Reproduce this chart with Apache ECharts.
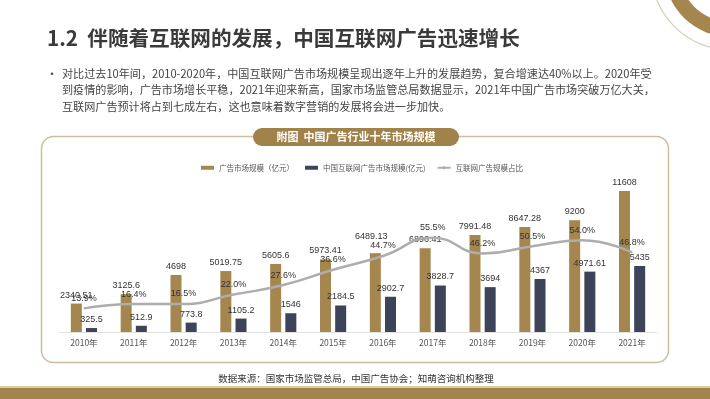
<!DOCTYPE html>
<html>
<head>
<meta charset="utf-8">
<script src="https://cdn.jsdelivr.net/npm/echarts@6/dist/echarts.min.js"></script>
<style>
  html, body { margin: 0; padding: 0; background: #fff; }
  #main { width: 710px; height: 399px; }
</style>
</head>
<body>
<div id="main"></div>
<script>
var years = ['2010年', '2011年', '2012年', '2013年', '2014年', '2015年', '2016年', '2017年', '2018年', '2019年', '2020年', '2021年'];
var adMarket = [2340.51, 3125.6, 4698, 5019.75, 5605.6, 5973.41, 6489.13, 6896.41, 7991.48, 8647.28, 9200, 11608];
var netAd = [325.5, 512.9, 773.8, 1105.2, 1546, 2184.5, 2902.7, 3828.7, 3694, 4367, 4971.61, 5435];
var netShare = [13.9, 16.4, 16.5, 22.0, 27.6, 36.6, 44.7, 55.5, 46.2, 50.5, 54.0, 46.8];

var seriesNames = ['广告市场规模（亿元）', '中国互联网广告市场规模(亿元)', '互联网广告规模占比'];
var bodyLines = [
    '对比过去10年间，2010-2020年，中国互联网广告市场规模呈现出逐年上升的发展趋势，复合增速达40%以上。2020年受',
    '到疫情的影响，广告市场增长平稳，2021年迎来新高，国家市场监管总局数据显示，2021年中国广告市场突破万亿大关，',
    '互联网广告预计将占到七成左右，这也意味着数字营销的发展将会进一步加快。'
];

var gold = '#a5864e';
var navy = '#3d4459';
var cjk = '"Noto Sans CJK SC", "Noto Sans", sans-serif';
var num = '"Liberation Sans Narrow", "Liberation Sans", sans-serif';

var myChart = echarts.init(document.getElementById('main'));

var graphics = [
    // decorative ring top right
    { type: 'circle', shape: { cx: 731, cy: -30, r: 80 }, style: { fill: 'none', stroke: '#d6cdb8', lineWidth: 1.2 }, silent: true },
    { type: 'ring', shape: { cx: 731, cy: -30, r: 67, r0: 52 }, style: { fill: '#a5864e' }, silent: true },
    // title
    { type: 'text', left: 47, top: 28, style: { text: '1.2  伴随着互联网的发展，中国互联网广告迅速增长', font: 'bold 20.6px ' + cjk, fill: '#3a3a3a' } },
    { type: 'text', left: 46, top: 68, style: { text: '•', font: '12px ' + cjk, fill: '#555' } },
    // chart panel
    { type: 'rect', shape: { x: 41.5, y: 136.5, width: 627, height: 226, r: 12 }, style: { fill: '#fff', stroke: '#cbbf9f', lineWidth: 1.5 }, z: -10 },
    { type: 'rect', shape: { x: 253, y: 128, width: 206, height: 18, r: 9 }, style: { fill: '#a0824a' } },
    { type: 'text', x: 356, y: 137, style: { text: '附图  中国广告行业十年市场规模', font: 'bold 11px ' + cjk, fill: '#fff', align: 'center', verticalAlign: 'middle' } },
    // source
    { type: 'text', x: 356, y: 378, style: { text: '数据来源：国家市场监管总局，中国广告协会；知萌咨询机构整理', font: '9.5px ' + cjk, fill: '#333', align: 'center', verticalAlign: 'middle' } },
    // bottom stripe
    { type: 'rect', shape: { x: 0, y: 386, width: 710, height: 2 }, style: { fill: '#dccba4' } },
    { type: 'rect', shape: { x: 0, y: 388, width: 710, height: 11 }, style: { fill: '#a3844c' } }
];
bodyLines.forEach(function (t, i) {
    graphics.push({ type: 'text', left: 62, top: 68 + i * 16.5, style: { text: t, font: '11.1px ' + cjk, fill: '#444' } });
});

// 2016 gold label sits higher in the original, clear of the share label
var goldData = adMarket.map(function (v, i) {
    return i === 6 ? { value: v, label: { offset: [-4, -8] } } : v;
});
var shareData = netShare.map(function (v, i) {
    return i === 6 ? { value: v, label: { offset: [4, 0] } } : v;
});

var option = {
    backgroundColor: '#fff',
    animation: false,
    graphic: graphics,
    legend: {
        left: 196,
        top: 159,
        itemWidth: 13,
        itemHeight: 4,
        itemGap: 11,
        data: [
            { name: seriesNames[0], icon: 'rect' },
            { name: seriesNames[1], icon: 'rect' },
            { name: seriesNames[2] }
        ],
        textStyle: { fontSize: 7.5, color: '#555', fontFamily: cjk }
    },
    grid: { left: 59, right: 53, top: 162, bottom: 67 },
    xAxis: {
        type: 'category',
        data: years,
        axisTick: { show: false },
        axisLine: { lineStyle: { color: '#e2e2e2', width: 1 } },
        axisLabel: { fontSize: 8.5, color: '#555', margin: 7, fontFamily: cjk }
    },
    yAxis: [
        { type: 'value', min: 0, max: 14000, show: false, splitLine: { show: false } },
        { type: 'value', min: 0, max: 100, show: false, splitLine: { show: false } }
    ],
    series: [
        {
            name: seriesNames[0],
            type: 'bar',
            data: goldData,
            barWidth: 11,
            barGap: '38%',
            itemStyle: { color: gold },
            label: { show: true, position: 'top', distance: 4, fontSize: 9, color: '#333', fontFamily: num }
        },
        {
            name: seriesNames[1],
            type: 'bar',
            data: netAd,
            barWidth: 11,
            itemStyle: { color: navy },
            label: { show: true, position: 'top', distance: 4, fontSize: 9, color: '#333', fontFamily: num }
        },
        {
            name: seriesNames[2],
            type: 'line',
            yAxisIndex: 1,
            data: shareData,
            smooth: true,
            symbol: 'circle',
            symbolSize: 1,
            showSymbol: true,
            lineStyle: { color: '#adadad', width: 2.5 },
            itemStyle: { color: '#adadad' },
            label: {
                show: true, position: 'top', distance: 5, fontSize: 9, color: '#333', fontFamily: num,
                formatter: function (p) { return p.value.toFixed(1) + '%'; }
            },
            labelLayout: { hideOverlap: false },
            z: 5
        }
    ]
};

myChart.setOption(option, true);
</script>
</body>
</html>
